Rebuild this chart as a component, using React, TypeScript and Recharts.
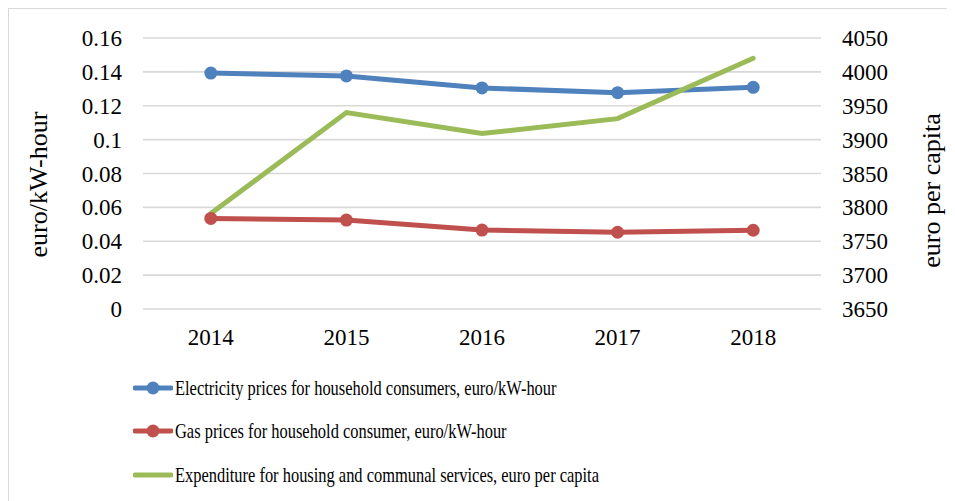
import React from 'react';
import { LineChart, Line, XAxis, YAxis, CartesianGrid } from 'recharts';

const years = ['2014', '2015', '2016', '2017', '2018'];
const electricity = [0.1393, 0.1376, 0.1305, 0.1277, 0.1309];
const gas = [0.0535, 0.0525, 0.0466, 0.0453, 0.0465];
const expenditure = [3791, 3940, 3909, 3931, 4020];
const leftTicks = [0, 0.02, 0.04, 0.06, 0.08, 0.1, 0.12, 0.14, 0.16];
const rightTicks = [3650, 3700, 3750, 3800, 3850, 3900, 3950, 4000, 4050];

const BLUE = '#4F81BD';
const RED = '#C0504D';
const GREEN = '#9BBB59';
const FONT = "'Liberation Serif', 'DejaVu Serif', Times, serif";

const legendItems = [
  { name: 'Electricity prices for household consumers, euro/kW-hour', color: BLUE, dot: true },
  { name: 'Gas prices for household consumer, euro/kW-hour', color: RED, dot: true },
  { name: 'Expenditure for housing and communal services, euro per capita', color: GREEN, dot: false },
];

const data = years.map((year, i) => ({
  year,
  electricity: electricity[i],
  gas: gas[i],
  expenditure: expenditure[i],
}));

const textStyle = { fontFamily: FONT };

const LeftTick = ({ x, y, payload }: any) => (
  <text x={x} y={y} dy="0.35em" textAnchor="end" fontSize={23} fill="#000" style={textStyle}>
    {payload.value}
  </text>
);

const RightTick = ({ x, y, payload }: any) => (
  <text x={x} y={y} dy="0.35em" textAnchor="start" fontSize={23} fill="#000" style={textStyle}>
    {payload.value}
  </text>
);

const BottomTick = ({ x, y, payload }: any) => (
  <text x={x} y={y + 36} textAnchor="middle" fontSize={23} fill="#000" style={textStyle}>
    {payload.value}
  </text>
);

// rotated axis title, placed relative to the axis viewBox
const AxisTitle = ({ viewBox, value, dx, dy }: any) => {
  const x = viewBox.x + dx;
  const y = viewBox.y + viewBox.height / 2 + dy;
  return (
    <text
      x={x}
      y={y}
      textAnchor="middle"
      transform={`rotate(-90, ${x}, ${y})`}
      fontSize={26}
      fill="#000"
      style={textStyle}
    >
      {value}
    </text>
  );
};

const App = () => {
  return (
    <div
      style={{
        position: 'relative',
        width: 946,
        height: 492,
        borderTop: '1px solid #d9d9d9',
        borderLeft: '1px solid #d9d9d9',
        fontFamily: FONT,
        overflow: 'hidden',
      }}
    >
      <LineChart
        width={946}
        height={360}
        data={data}
        margin={{ top: 29, right: 0, left: 0, bottom: 0 }}
        style={textStyle}
      >
        <CartesianGrid vertical={false} stroke="#d9d9d9" strokeWidth={1.6} />
        <XAxis
          dataKey="year"
          axisLine={false}
          tickLine={false}
          tickSize={0}
          tickMargin={0}
          height={60}
          padding={{ left: 67.8, right: 67.8 }}
          tick={<BottomTick />}
        />
        <YAxis
          domain={[0, 0.16]}
          ticks={leftTicks}
          width={134}
          axisLine={false}
          tickLine={false}
          tickSize={0}
          tickMargin={21}
          tick={<LeftTick />}
          label={{ content: (p: any) => <AxisTitle {...p} value="euro/kW-hour" dx={38} dy={11} /> }}
        />
        <YAxis
          yAxisId="right"
          orientation="right"
          domain={[3650, 4050]}
          ticks={rightTicks}
          width={134}
          axisLine={false}
          tickLine={false}
          tickSize={0}
          tickMargin={21}
          tick={<RightTick />}
          label={{ content: (p: any) => <AxisTitle {...p} value="euro per capita" dx={119} dy={17} /> }}
        />
        <Line
          dataKey="electricity"
          stroke={BLUE}
          strokeWidth={5}
          dot={{ r: 6.5, fill: BLUE, stroke: BLUE, strokeWidth: 0 }}
          activeDot={false}
          isAnimationActive={false}
        />
        <Line
          dataKey="gas"
          stroke={RED}
          strokeWidth={5}
          dot={{ r: 6.5, fill: RED, stroke: RED, strokeWidth: 0 }}
          activeDot={false}
          isAnimationActive={false}
        />
        <Line
          yAxisId="right"
          dataKey="expenditure"
          stroke={GREEN}
          strokeWidth={5}
          strokeLinecap="round"
          dot={false}
          activeDot={false}
          isAnimationActive={false}
        />
      </LineChart>
      <div style={{ position: 'absolute', left: 124, top: 357 }}>
        {legendItems.map((item) => (
          <div key={item.name} style={{ display: 'flex', alignItems: 'center', height: 43.5 }}>
            <svg width={40} height={14} style={{ marginRight: 2, flexShrink: 0 }}>
              <line x1={2} y1={7} x2={38} y2={7} stroke={item.color} strokeWidth={5} strokeLinecap="round" />
              {item.dot && <circle cx={20} cy={7} r={6.5} fill={item.color} />}
            </svg>
            <span
              style={{
                display: 'inline-block',
                fontSize: 22,
                whiteSpace: 'nowrap',
                transform: 'scaleX(0.747)',
                transformOrigin: 'left center',
                color: '#000',
                fontFamily: FONT,
              }}
            >
              {item.name}
            </span>
          </div>
        ))}
      </div>
    </div>
  );
};

export default App;
